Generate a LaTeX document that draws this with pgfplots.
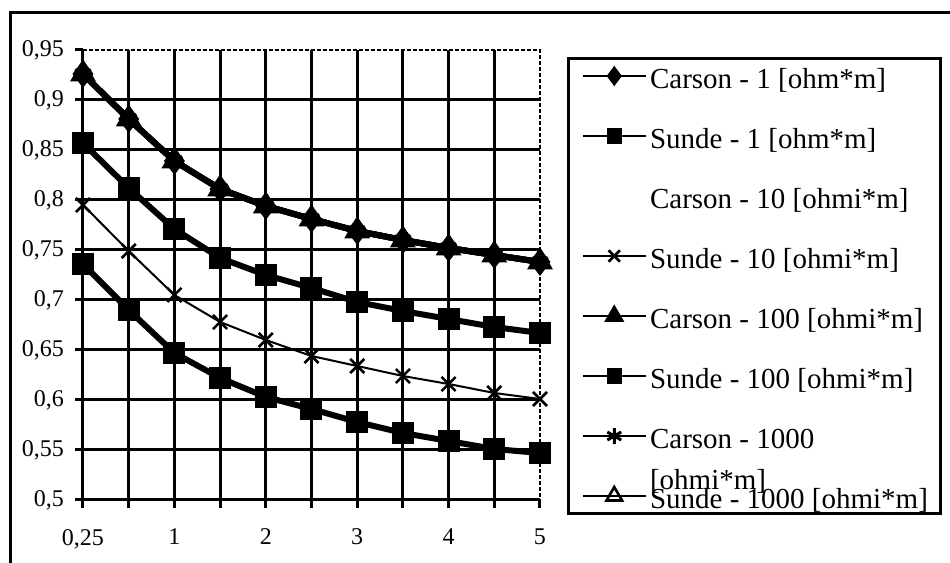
\documentclass[border=0pt]{standalone}
\usepackage{fontspec}
\setmainfont{Liberation Serif}
\usepackage{pgfplots}
\pgfplotsset{compat=1.18}
\begin{document}
\begin{tikzpicture}
\useasboundingbox (0,0) rectangle (475pt,281.5pt);
\draw[line width=1.5pt] (5pt,-2pt) -- (5pt,275pt) -- (477pt,275pt);
\begin{axis}[
  at={(41.5pt,31.5pt)}, anchor=south west,
  scale only axis, width=228.5pt, height=225pt,
  xmin=0, xmax=10, ymin=0.5, ymax=0.95,
  clip=false,
  axis lines=left, axis line style={-, line width=1.5pt},
  xtick={0,1,2,3,4,5,6,7,8,9}, xticklabels={{0,25},,1,,2,,3,,4,},
  extra x ticks={10}, extra x tick labels={5}, extra x tick style={grid=none},
  ytick={0.5,0.55,0.6,0.65,0.7,0.75,0.8,0.85,0.9},
  extra y ticks={0.95}, extra y tick style={grid=none},
  /pgf/number format/.cd, use comma, fixed, precision=2, assume math mode=true,
  /pgfplots/.cd,
  grid=major, major grid style={line width=1.5pt, black},
  tick style={line width=1.5pt, black}, tick align=outside, major tick length=4pt,
  ticklabel style={font=\fontsize{12}{14}\selectfont},
  yticklabel style={xshift=-2pt},
  xticklabel style={yshift=-7pt},
  legend image code/.code={\draw[mark repeat=2,mark phase=2,#1] plot coordinates {(0pt,0pt)(15.75pt,0pt)(31.5pt,0pt)};},
  legend cell align=left,
  legend style={at={(1.059,0.9844)}, anchor=north west, draw=black, line width=1.5pt,
    inner xsep=6.5pt, inner ysep=0pt, row sep=12.5pt, column sep=1.5pt,
    font=\fontsize{14.5}{17}\selectfont,
    nodes={inner sep=0pt, text height=15pt, text depth=2.5pt}},
]
% top curve (Carson 1, 100, 1000, Sunde 1000)
\addplot[forget plot, line width=3pt, black, mark=triangle, mark size=4.5pt, mark options={solid, fill=white, line width=1pt}] coordinates {
(0,0.926)(1,0.881)(2,0.839)(3,0.811)(4,0.794)(5,0.781)(6,0.769)(7,0.760)(8,0.752)(9,0.745)(10,0.738)};
\addplot[forget plot, line width=3pt, black, mark=diamond*, mark size=4.5pt, mark options={solid}] coordinates {
(0,0.926)(1,0.881)(2,0.839)(3,0.811)(4,0.794)(5,0.781)(6,0.769)(7,0.760)(8,0.752)(9,0.745)(10,0.738)};
\addplot[forget plot, line width=3pt, black, mark=triangle*, mark size=4.5pt, mark options={solid}] coordinates {
(0,0.926)(1,0.881)(2,0.839)(3,0.811)(4,0.794)(5,0.781)(6,0.769)(7,0.760)(8,0.752)(9,0.745)(10,0.738)};
\addplot[forget plot, line width=3pt, black, mark=asterisk, mark size=4.5pt, mark options={solid, line width=1.5pt}] coordinates {
(0,0.926)(1,0.881)(2,0.839)(3,0.811)(4,0.794)(5,0.781)(6,0.769)(7,0.760)(8,0.752)(9,0.745)(10,0.738)};
% Sunde 100
\addplot[forget plot, line width=3pt, black, mark=square*, mark size=4pt, mark options={solid}] coordinates {
(0,0.857)(1,0.812)(2,0.771)(3,0.742)(4,0.725)(5,0.712)(6,0.698)(7,0.689)(8,0.681)(9,0.673)(10,0.667)};
% Sunde 10
\addplot[forget plot, line width=1pt, black, mark=x, mark size=5pt, mark options={solid, line width=1.3pt}] coordinates {
(0,0.795)(1,0.749)(2,0.705)(3,0.678)(4,0.660)(5,0.644)(6,0.634)(7,0.624)(8,0.616)(9,0.607)(10,0.601)};
% Sunde 1
\addplot[forget plot, line width=3pt, black, mark=square*, mark size=4pt, mark options={solid}] coordinates {
(0,0.736)(1,0.690)(2,0.647)(3,0.622)(4,0.603)(5,0.591)(6,0.578)(7,0.567)(8,0.559)(9,0.551)(10,0.547)};
% legend
\addlegendimage{line width=1.3pt, black, mark=diamond*, mark size=4pt, mark options={solid}}
\addlegendentry{Carson - 1 [ohm*m]}
\addlegendimage{line width=1.3pt, black, mark=square*, mark size=3.2pt, mark options={solid}}
\addlegendentry{Sunde - 1 [ohm*m]}
\addlegendimage{empty legend}
\addlegendentry{Carson - 10 [ohmi*m]}
\addlegendimage{line width=0.8pt, black, mark=x, mark size=4pt, mark options={solid, line width=1.3pt}}
\addlegendentry{Sunde - 10 [ohmi*m]}
\addlegendimage{line width=1.3pt, black, mark=triangle*, mark size=4.5pt, mark options={solid}}
\addlegendentry{Carson - 100 [ohmi*m]}
\addlegendimage{line width=1.3pt, black, mark=square*, mark size=3.2pt, mark options={solid}}
\addlegendentry{Sunde - 100 [ohmi*m]}
\addlegendimage{line width=1.3pt, black, mark=asterisk, mark size=4pt, mark options={solid, line width=1.5pt}}
\addlegendentry{\smash{\def\arraystretch{1.2}\begin{tabular}[t]{@{}l@{}}Carson - 1000\\\relax[ohmi*m]\end{tabular}}}
\addlegendimage{line width=1.3pt, black, mark=triangle, mark size=4.5pt, mark options={solid, fill=white, line width=1.3pt}}
\addlegendentry{Sunde - 1000 [ohmi*m]}
\draw[line width=0.6pt, dash pattern=on 2pt off 1pt] (rel axis cs:0,1) -- (rel axis cs:1,1) -- (rel axis cs:1,0);
\end{axis}
\end{tikzpicture}
\end{document}
